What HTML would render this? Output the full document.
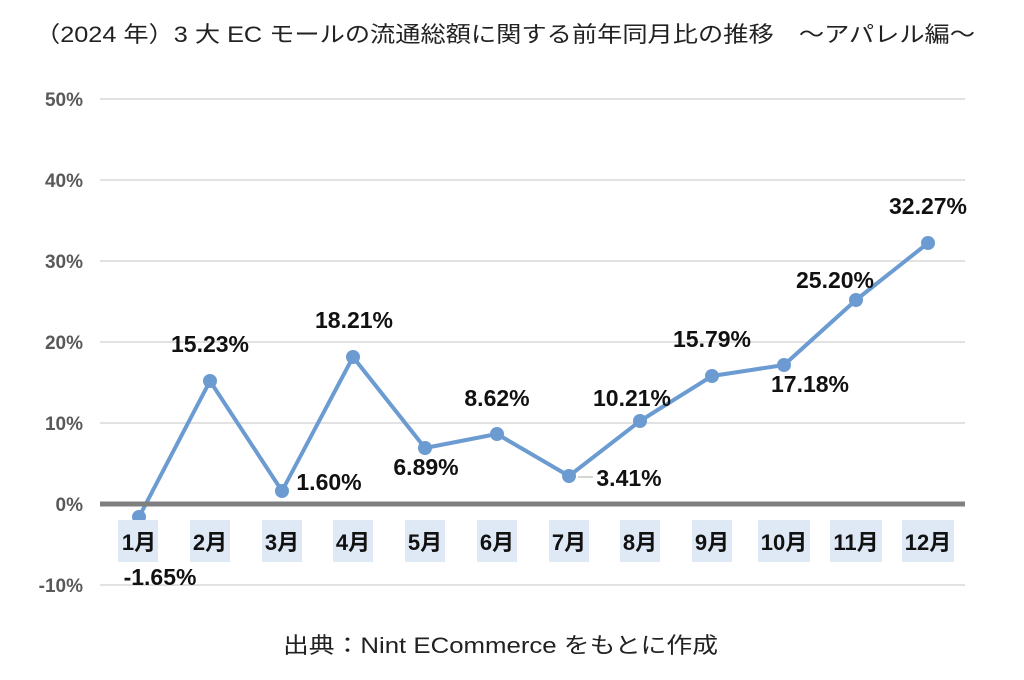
<!DOCTYPE html>
<html><head><meta charset="utf-8"><style>
body{margin:0;background:#fff;}
svg{display:block;font-family:"Liberation Sans","Noto Sans CJK JP",sans-serif;}
</style></head><body>
<svg width="1024" height="680" viewBox="0 0 1024 680">
<text x="35" y="42" font-size="22" textLength="940" lengthAdjust="spacingAndGlyphs" fill="#222">（2024 年）3 大 EC モールの流通総額に関する前年同月比の推移　～アパレル編～</text>
<g stroke="#d9d9d9" stroke-width="1.5">
<line x1="100" y1="99" x2="965" y2="99"/><line x1="100" y1="180" x2="965" y2="180"/>
<line x1="100" y1="261" x2="965" y2="261"/><line x1="100" y1="342" x2="965" y2="342"/>
<line x1="100" y1="423" x2="965" y2="423"/><line x1="100" y1="585" x2="965" y2="585"/>
</g>
<g font-size="19" font-weight="bold" fill="#595959" text-anchor="end">
<text x="83" y="106">50%</text><text x="83" y="187">40%</text><text x="83" y="268">30%</text>
<text x="83" y="349">20%</text><text x="83" y="430">10%</text><text x="83" y="511">0%</text><text x="83" y="592">-10%</text>
</g>
<polyline fill="none" stroke="#6b9bd1" stroke-width="4" stroke-linejoin="round" points="139,517 210,381 282,491 353,357 425,448 497,434 569,476 640,421 712,376 784,365 856,300 928,243"/>
<g fill="#6b9bd1">
<circle cx="139" cy="517" r="7"/><circle cx="210" cy="381" r="7"/><circle cx="282" cy="491" r="7"/><circle cx="353" cy="357" r="7"/><circle cx="425" cy="448" r="7"/><circle cx="497" cy="434" r="7"/><circle cx="569" cy="476" r="7"/><circle cx="640" cy="421" r="7"/><circle cx="712" cy="376" r="7"/><circle cx="784" cy="365" r="7"/><circle cx="856" cy="300" r="7"/><circle cx="928" cy="243" r="7"/>
</g>
<line x1="100" y1="504" x2="965" y2="504" stroke="#7f7f7f" stroke-width="5"/>
<line x1="578" y1="477" x2="593" y2="477" stroke="#aaa" stroke-width="1"/>
<g fill="#dfe9f5">
<rect x="118" y="520" width="40" height="42"/><rect x="190" y="520" width="40" height="42"/><rect x="262" y="520" width="40" height="42"/><rect x="333" y="520" width="40" height="42"/><rect x="405" y="520" width="40" height="42"/><rect x="477" y="520" width="40" height="42"/><rect x="549" y="520" width="40" height="42"/><rect x="620" y="520" width="40" height="42"/><rect x="692" y="520" width="40" height="42"/><rect x="758" y="520" width="52" height="42"/><rect x="830" y="520" width="52" height="42"/><rect x="902" y="520" width="52" height="42"/>
</g>
<g font-size="22" font-weight="bold" fill="#111" text-anchor="middle">
<text x="139" y="550">1月</text><text x="210" y="550">2月</text><text x="282" y="550">3月</text><text x="353" y="550">4月</text><text x="425" y="550">5月</text><text x="497" y="550">6月</text><text x="569" y="550">7月</text><text x="640" y="550">8月</text><text x="712" y="550">9月</text><text x="784" y="550">10月</text><text x="856" y="550">11月</text><text x="928" y="550">12月</text>
</g>
<g font-size="23" font-weight="bold" fill="#111" text-anchor="middle">
<text x="160" y="585">-1.65%</text>
<text x="210" y="352">15.23%</text>
<text x="329" y="490">1.60%</text>
<text x="354" y="328">18.21%</text>
<text x="426" y="475">6.89%</text>
<text x="497" y="406">8.62%</text>
<text x="629" y="486">3.41%</text>
<text x="632" y="406">10.21%</text>
<text x="712" y="347">15.79%</text>
<text x="810" y="392">17.18%</text>
<text x="835" y="288">25.20%</text>
<text x="928" y="214">32.27%</text>
</g>
<text x="283" y="653" font-size="22" textLength="435" lengthAdjust="spacingAndGlyphs" fill="#222">出典：Nint ECommerce をもとに作成</text>
</svg>
</body></html>
